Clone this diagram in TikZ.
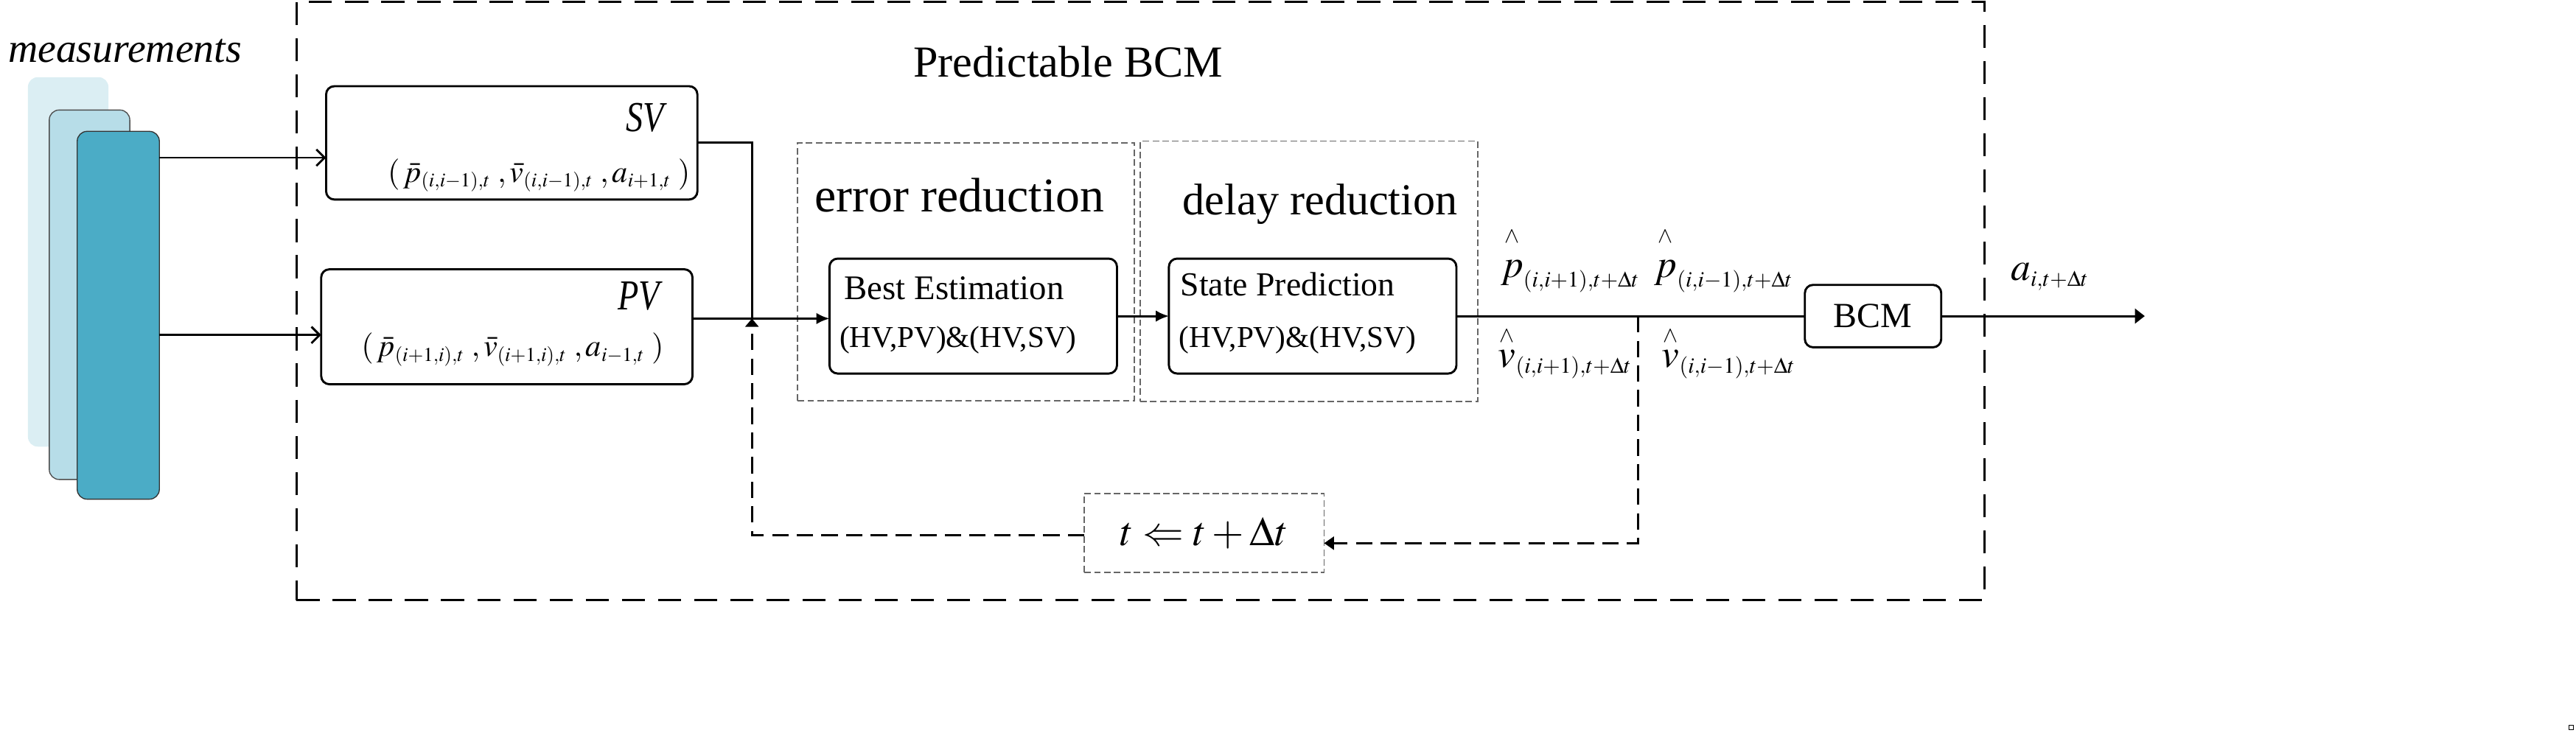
\documentclass[tikz,border=0pt]{standalone}
\usepackage{mathptmx}
\usepackage{fontspec}
\setmainfont{Liberation Serif}
\usetikzlibrary{arrows.meta}
\DeclareMathSizes{24}{24}{13.5}{10}
\DeclareMathSizes{19}{19}{12}{9}
\definecolor{mA}{RGB}{219,238,243}
\definecolor{mB}{RGB}{183,221,232}
\definecolor{mC}{RGB}{75,172,198}
\begin{document}
\begin{tikzpicture}[x=1pt,y=-1pt,
  box/.style={draw, line width=1.3pt, rounded corners=5pt, inner sep=0pt, outer sep=0pt},
  grp/.style={draw=black!60, line width=0.7pt, dash pattern=on 4pt off 2pt, inner sep=0pt, outer sep=0pt},
  outerframe/.style={draw, line width=1.4pt, dash pattern=on 14pt off 8pt, inner sep=0pt, outer sep=0pt},
  meas/.style={rounded corners=6pt, inner sep=0pt, outer sep=0pt},
  wire/.style={line width=1.3pt},
  fb/.style={line width=1.2pt, dash pattern=on 10pt off 5pt},
  lbl/.style={inner sep=0pt, outer sep=0pt, anchor=base west},
]
\useasboundingbox (0,0) rectangle (1568,446);

% measurement stack
\node[meas, fill=mA, minimum width=49pt, minimum height=225pt] (m1) at (41.5,159.5) {};
\node[meas, fill=mB, draw=black!70, line width=0.6pt, minimum width=49pt, minimum height=225pt] (m2) at (54.5,179.5) {};
\node[meas, fill=mC, draw=black!80, line width=0.6pt, minimum width=50pt, minimum height=224pt] (m3) at (72,192) {};
\node[lbl, font=\fontsize{25}{30}\selectfont\itshape] (mlab) at (5,38) {measurements};

% outer frame
\node[outerframe, minimum width=1027.5pt, minimum height=364.6pt] (frm) at (694.25,183.3) {};
\node[lbl, font=\fontsize{27}{32}\selectfont] (title) at (556,47) {Predictable BCM};

% SV / PV boxes
\node[box, minimum width=226pt, minimum height=69pt] (sv) at (311.5,87) {};
\node[box, minimum width=226pt, minimum height=70pt] (pv) at (308.5,199) {};
\node[lbl, font=\fontsize{26}{30}\selectfont\itshape] (svlab) at (381,80) {\scalebox{0.8}[1]{SV}};
\node[lbl, font=\fontsize{26}{30}\selectfont\itshape] (pvlab) at (376,188.5) {\scalebox{0.8}[1]{PV}};
\node[lbl, font=\fontsize{19}{23}\selectfont] (svmath) at (236,111)
  {$(\,\bar{p}_{(i,i-1),t}\;,\bar{v}_{(i,i-1),t}\;,a_{i+1,t}\;)$};
\node[lbl, font=\fontsize{19}{23}\selectfont] (pvmath) at (220,217)
  {$(\,\bar{p}_{(i+1,i),t}\;,\bar{v}_{(i+1,i),t}\;,a_{i-1,t}\;)$};

% group boxes
\node[grp, minimum width=205pt, minimum height=157pt] (err) at (588,165.5) {};
\node[grp, minimum width=205.5pt, minimum height=158.5pt] (dly) at (796.75,165.25) {};
\node[lbl, font=\fontsize{29.5}{34}\selectfont] (errlab) at (496,129) {error reduction};
\node[lbl, font=\fontsize{27}{32}\selectfont] (dlylab) at (720,131) {delay reduction};

% processing boxes
\node[box, minimum width=175pt, minimum height=70pt] (be) at (592.4,192.5) {};
\node[box, minimum width=175pt, minimum height=70pt] (sp) at (799,192.5) {};
\node[lbl, font=\fontsize{21}{25}\selectfont] (be1) at (514,182.5) {Best Estimation};
\node[lbl, font=\fontsize{18.5}{22}\selectfont] (be2) at (511,211.7) {(HV,PV)\&(HV,SV)};
\node[lbl, font=\fontsize{20.5}{25}\selectfont] (sp1) at (718.6,180) {State Prediction};
\node[lbl, font=\fontsize{18.5}{22}\selectfont] (sp2) at (717.7,211.7) {(HV,PV)\&(HV,SV)};

\node[box, minimum width=83pt, minimum height=38pt, font=\fontsize{21.5}{25}\selectfont] (bcm) at (1140.1,192.5) {BCM};

% t box
\node[grp, minimum width=146pt, minimum height=48pt, font=\fontsize{25}{29}\selectfont] (tb) at (733,324.5) {$t\Leftarrow t+\Delta t$};

% labels on main line
\node[lbl, font=\fontsize{24}{28}\selectfont] (ph1) at (913.5,169) {${\stackrel{\wedge}{\vphantom{h}p}}_{(i,i+1),t+\Delta t}$};
\node[lbl, font=\fontsize{24}{28}\selectfont] (ph2) at (1007,169) {${\stackrel{\wedge}{\vphantom{h}p}}_{(i,i-1),t+\Delta t}$};
\node[lbl, font=\fontsize{24}{28}\selectfont] (vh1) at (912,223.5) {${\stackrel{\wedge}{\vphantom{x}v}}_{(i,i+1),t+\Delta t}$};
\node[lbl, font=\fontsize{24}{28}\selectfont] (vh2) at (1011.6,223.5) {${\stackrel{\wedge}{\vphantom{x}v}}_{(i,i-1),t+\Delta t}$};
\node[lbl, font=\fontsize{24}{28}\selectfont] (alab) at (1224,170.5) {$a_{i,t+\Delta t}$};

% coordinates
\coordinate (J) at (457.7,194);
\coordinate (B) at (997,192.5);
\coordinate (out) at (1305.5,192.5);
\coordinate (a1) at ([yshift=-9pt]sv.west);
\coordinate (a2) at ([yshift=-5pt]pv.west);
\coordinate (tin) at ([yshift=-6.3pt]tb.east);
\coordinate (tout) at ([yshift=-1.5pt]tb.west);

% connectors
\draw[wire, -{Straight Barb[length=5pt,width=10pt]}] (m3.east |- a1) -- (a1);
\draw[wire, -{Straight Barb[length=5pt,width=10pt]}] (m3.east |- a2) -- (a2);
\draw[wire] (sv.east) -| (J);
\draw[wire, -{Latex[length=8pt,width=7pt]}] (pv.east |- J) -- (be.west |- J);
\draw[wire, -{Latex[length=8pt,width=7pt]}] (be.east) -- (sp.west);
\draw[wire] (sp.east) -- (bcm.west);
\draw[wire, -{Triangle[length=6pt,width=9pt]}] (bcm.east) -- (out);
\draw[fb, -{Triangle[length=6pt,width=8pt]}] (B) |- (tin);
\draw[fb, -{Triangle[length=5pt,width=8pt]}] (tout) -| (J);

% tiny mark at corner
\draw[line width=0.4pt] (1563.5,441.5) rectangle (1566.5,444.5);
\end{tikzpicture}
\end{document}
